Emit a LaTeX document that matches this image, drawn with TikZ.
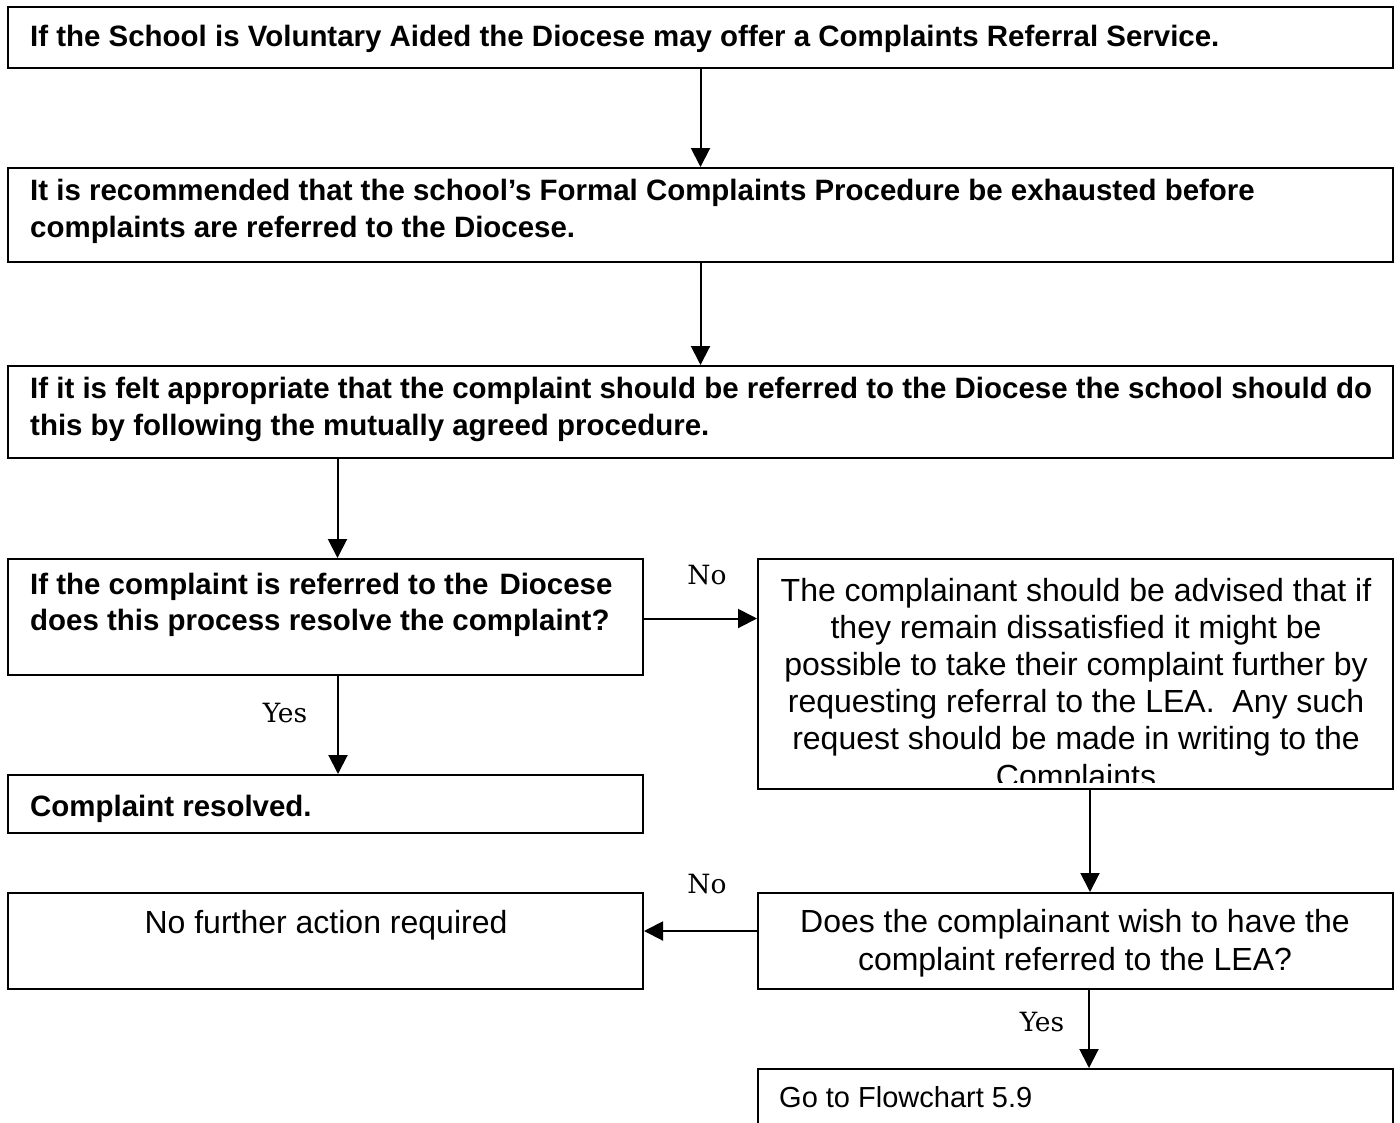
\documentclass[tikz,border=0pt]{standalone}
\usepackage{fontspec}
\setmainfont{Liberation Sans}
\newfontfamily\lblfont{DejaVu Serif}
\usetikzlibrary{arrows.meta}
\begin{document}
\begin{tikzpicture}[x=1pt,y=-1pt,
  box/.style={draw,line width=2pt,inner sep=0pt,anchor=north west},
  boldtxt/.style={inner sep=0pt,anchor=base west,align=left,font=\fontsize{29.45}{37}\selectfont\bfseries},
  plaintxt/.style={inner sep=0pt,anchor=base,align=center,font=\fontsize{32}{37.5}\selectfont},
  arr/.style={line width=2pt,-{Triangle[width=19pt,length=19pt]}},
  lbl/.style={inner sep=0pt,font=\fontsize{26.5}{30}\lblfont}]
\useasboundingbox (0,0) rectangle (1400,1122);
\clip (0,0) rectangle (1400,1122);
\fill[white] (0,0) rectangle (1400,1122);

% boxes
\node[box,minimum width=1385pt,minimum height=61pt] (b1) at (7,6) {};
\node[box,minimum width=1385pt,minimum height=94pt] (b2) at (7,167) {};
\node[box,minimum width=1385pt,minimum height=92pt] (b3) at (7,365) {};
\node[box,minimum width=635pt,minimum height=116pt] (b4) at (7,558) {};
\node[box,minimum width=635pt,minimum height=230pt] (b5) at (757,558) {};
\node[box,minimum width=635pt,minimum height=58pt] (b6) at (7,774) {};
\node[box,minimum width=635pt,minimum height=96pt] (b7) at (7,892) {};
\node[box,minimum width=635pt,minimum height=96pt] (b8) at (757,892) {};
\node[box,minimum width=635pt,minimum height=80pt] (b9) at (757,1068) {};

% texts (the base anchor of a multi-line node sits on its last line)
\node[boldtxt] (t1) at (30,46.5) {If the School is Voluntary Aided the Diocese may offer a Complaints Referral Service.};
\node[boldtxt] (t2) at (30,237.5) {It is recommended that the school’s Formal Complaints Procedure be exhausted before\\complaints are referred to the Diocese.};
\node[boldtxt] (t3) at (30,435.5) {If it is felt appropriate that the complaint should be referred to the Diocese the school should do\\this by following the mutually agreed procedure.};
\node[boldtxt,font=\fontsize{29.45}{36}\selectfont\bfseries] (t4) at (30,630.5) {If the complaint is referred to the\hspace{3pt} Diocese\\does this process resolve the complaint?};
\begin{scope}
  \clip (757,558) rectangle (1392,782);
  \node[plaintxt,font=\fontsize{32}{37.2}\selectfont] (t5) at (1076,787) {The complainant should be advised that if\\they remain dissatisfied it might be\\possible to take their complaint further by\\requesting referral to the LEA. \ Any such\\request should be made in writing to the\\Complaints};
\end{scope}
\node[boldtxt] (t6) at (30,816.5) {Complaint resolved.};
\node[plaintxt] (t7) at (326,933.5) {No further action required};
\node[plaintxt,font=\fontsize{32}{38}\selectfont] (t8) at (1075,970.5) {Does the complainant wish to have the\\complaint referred to the LEA?};
\node[inner sep=0pt,anchor=base west,font=\fontsize{29}{35}\selectfont] (t9) at (779,1107) {Go to Flowchart 5.9};

% connectors
\draw[arr] (b1) -- (b2);
\draw[arr] (b2) -- (b3);
\draw[arr] ([xshift=12pt]b4.north |- b3.south) -- ([xshift=12pt]b4.north);
\draw[arr] ([yshift=-1.5pt]b4.east) -- ([yshift=-1.5pt]b4.east -| b5.west);
\draw[arr] ([xshift=12.5pt]b4.south) -- ([xshift=12.5pt]b6.north);
\draw[arr] ([xshift=14.5pt]b5.south) -- ([xshift=14.5pt]b5.south |- b8.north);
\draw[arr] ([yshift=10pt]b8.west) -- ([yshift=10pt]b8.west -| b7.east);
\draw[arr] ([xshift=13.5pt]b8.south) -- ([xshift=13.5pt]b8.south |- b9.north);

% branch labels
\node[lbl] (no1) at (707,575) {No};
\node[lbl] (yes1) at (285,713) {Yes};
\node[lbl] (no2) at (707,884) {No};
\node[lbl] (yes2) at (1042,1022) {Yes};
\end{tikzpicture}
\end{document}
